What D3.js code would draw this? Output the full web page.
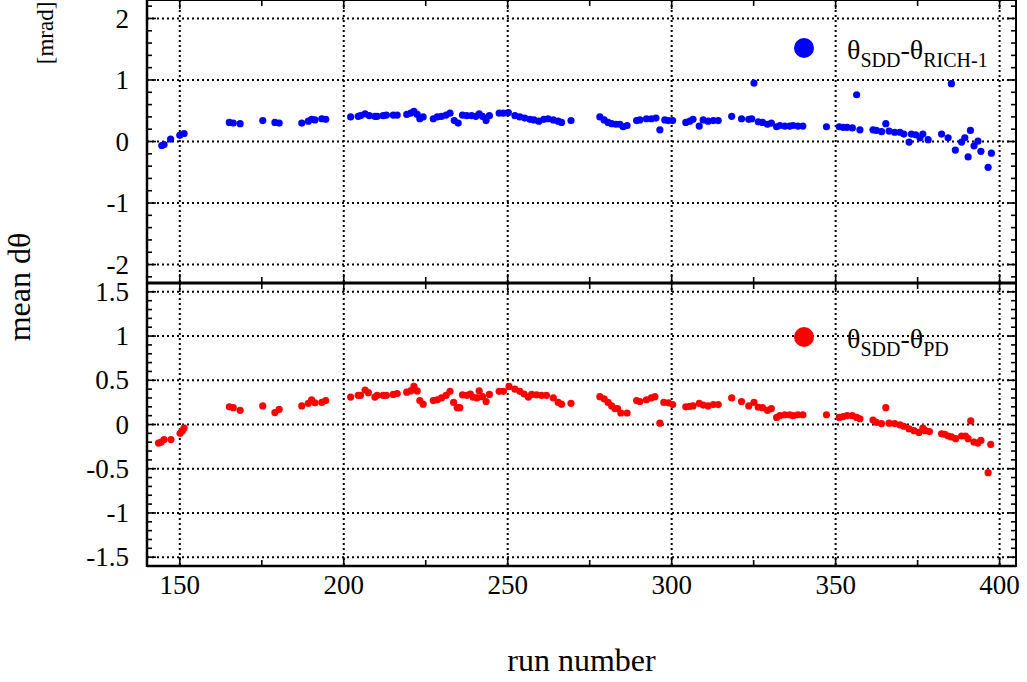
<!DOCTYPE html>
<html><head><meta charset="utf-8">
<script src="https://cdn.jsdelivr.net/npm/d3@7"></script>
<style>
html,body{margin:0;padding:0;background:#fff;}
svg{display:block;font-family:"Liberation Serif","Times New Roman",serif;}
</style></head><body>
<svg id="chart" width="1027" height="682"></svg>
<script>
// ---- data ----
const runsTop = [144.5,145.2,147.2,150,151.3,165.1,166.3,168.4,175.3,179,180.3,187.2,189.2,190.2,191.2,193.3,194.5,202.1,204.4,205.1,206.5,207.8,209.5,210.2,212,213,215.1,216.3,219.2,220.4,221.4,222.4,223.2,224.2,227.3,228.5,229.8,231.2,232.4,233.7,234.9,236.2,237.5,239,240.3,241.3,242.3,243.4,244.4,247.4,248.7,250.2,252.2,253.7,255.2,256.8,258,259.5,261,262.3,263.9,265.4,266.4,269.3,278.1,279.4,280.6,281.7,283,284.2,285.2,286.4,289.3,290.3,292.3,293.8,295.2,296.4,297.9,299,300.3,304.3,305.5,306.5,308.4,309.6,311.1,312.7,314.2,318.3,321.3,323.5,324.4,325.1,326.4,327.7,329.2,330.4,332,333,334.5,336,337,338.5,340,347.2,351.1,352.3,353.5,355.1,356.4,357.4,361.4,362.4,364,365.3,366.3,368,369.6,370.8,372.4,373.1,374.4,375.7,376.6,378.2,382.3,384.3,385.3,386.5,388.4,389.4,390.4,391.1,392.2,393.4,394.3,396.5,397.5];
const valsTop = [-0.065,-0.05,0.04,0.1,0.13,0.31,0.30,0.29,0.34,0.31,0.30,0.30,0.33,0.36,0.35,0.37,0.36,0.40,0.41,0.42,0.45,0.42,0.41,0.41,0.42,0.43,0.43,0.43,0.44,0.46,0.49,0.44,0.37,0.40,0.37,0.40,0.41,0.43,0.46,0.34,0.30,0.43,0.42,0.42,0.41,0.45,0.41,0.34,0.42,0.46,0.46,0.47,0.42,0.40,0.38,0.36,0.35,0.33,0.36,0.37,0.35,0.33,0.31,0.34,0.40,0.35,0.31,0.29,0.28,0.28,0.24,0.26,0.34,0.35,0.37,0.37,0.38,0.19,0.35,0.34,0.34,0.31,0.33,0.36,0.25,0.35,0.33,0.34,0.34,0.41,0.37,0.36,0.37,0.95,0.32,0.31,0.28,0.30,0.24,0.26,0.25,0.25,0.26,0.25,0.25,0.24,0.24,0.23,0.23,0.22,0.76,0.19,0.19,0.18,0.16,0.29,0.17,0.15,0.15,0.12,-0.01,0.12,0.11,0.06,0.12,0.03,0.12,0.06,0.94,-0.14,-0.01,0.06,-0.25,0.18,-0.07,0.005,-0.16,-0.42,-0.19];
const runsBot = [143.5,144.3,145.2,147.3,150.1,150.8,151.3,165.1,166.3,168.4,175.3,179,180.3,187.2,189.2,190.2,191.2,193.3,194.5,202.1,204.4,205.1,206.5,207.5,209.5,210.2,212,213,215.1,216.3,219.2,220.4,221.4,222.4,223.2,224.2,227.3,228.5,229.8,231.2,232.4,233.5,234.6,235.4,236.2,237.5,238.6,239.4,240.6,241.3,242.3,243.4,244.4,247.4,248.7,250.4,252.2,253.7,255,256.3,257.3,258.8,260.3,261.8,263.9,265.4,266.4,269.3,278.1,279.4,280.6,281.7,282.7,283.5,284.5,286.4,289.3,290.3,292.3,293.8,294.9,296.4,297.6,299,300.3,304.3,305.5,306.5,308.4,309.6,311.1,312.7,314.2,318.3,321.3,323.5,325.1,326.4,327.7,329.2,330.4,332,333,334.5,336,337,338.5,340,347.2,351.1,352.3,353.5,355.1,356.4,357.4,361.4,362.4,364,365.3,366.3,368,369.6,370.8,372.4,373.9,375.4,376.6,377.3,378.6,382.3,383.3,384.3,385.3,386.6,388.4,389.6,390.4,391.2,392.2,393.4,394.3,396.5,397.3];
const valsBot = [-0.21,-0.20,-0.17,-0.17,-0.10,-0.07,-0.04,0.20,0.19,0.16,0.21,0.135,0.17,0.21,0.24,0.28,0.245,0.25,0.27,0.31,0.33,0.33,0.39,0.36,0.31,0.33,0.33,0.33,0.34,0.35,0.365,0.38,0.43,0.38,0.27,0.23,0.27,0.28,0.30,0.33,0.375,0.25,0.19,0.19,0.335,0.33,0.345,0.31,0.30,0.38,0.315,0.26,0.34,0.375,0.375,0.43,0.40,0.375,0.345,0.31,0.34,0.335,0.33,0.33,0.30,0.25,0.23,0.24,0.315,0.29,0.25,0.21,0.18,0.18,0.13,0.13,0.27,0.26,0.28,0.30,0.315,0.015,0.25,0.245,0.225,0.20,0.205,0.21,0.24,0.22,0.21,0.225,0.225,0.30,0.26,0.21,0.25,0.195,0.19,0.16,0.18,0.08,0.10,0.11,0.11,0.10,0.11,0.11,0.11,0.08,0.09,0.10,0.10,0.08,0.065,0.05,0.025,0.01,0.19,0.015,0.01,-0.005,-0.02,-0.05,-0.07,-0.09,-0.04,-0.07,-0.08,-0.105,-0.11,-0.13,-0.14,-0.16,-0.13,-0.13,-0.16,0.04,-0.20,-0.21,-0.18,-0.545,-0.225];

const xDomain = [140, 405];
const xTickValues = [150, 200, 250, 300, 350, 400];
const xMinorStep = 25;
const yTicksTop = [-2, -1, 0, 1, 2];
const yTicksBot = [-1.5, -1, -0.5, 0, 0.5, 1, 1.5];
const yDomainTop = [-2.3, 2.3];
const yDomainBot = [-1.6, 1.6];
const xTitle = "run number";
const yTitle = "mean dθ";
const yUnit = "[mrad]";
const seriesTop = {name: ["θ", "SDD", "-θ", "RICH-1"], color: "#0000ff"};
const seriesBot = {name: ["θ", "SDD", "-θ", "PD"], color: "#ff0000"};

// ---- layout ----
const L = 147, R = 1016;
const svg = d3.select("#chart");
const x = d3.scaleLinear().domain(xDomain).range([L, R]);

const panels = [
  {top: 0, bottom: 283, domain: yDomainTop, ticks: yTicksTop, minor: 0.2, runs: runsTop, vals: valsTop, series: seriesTop, legendVal: 1.52},
  {top: 283, bottom: 566, domain: yDomainBot, ticks: yTicksBot, minor: 0.1, runs: runsBot, vals: valsBot, series: seriesBot, legendVal: 0.99}
];

const xMinor = d3.range(xDomain[0], xDomain[1] + 0.001, 1).filter(v => v % xMinorStep === 0);

panels.forEach((p, pi) => {
  const y = d3.scaleLinear().domain(p.domain).range([p.bottom, p.top]);
  const g = svg.append("g");

  // grid
  const grid = g.append("g").attr("stroke", "#000").attr("stroke-width", 2).attr("stroke-dasharray", "2,3");
  grid.selectAll("line.h").data(p.ticks).join("line")
    .attr("x1", L).attr("x2", R).attr("y1", d => y(d)).attr("y2", d => y(d));
  grid.selectAll("line.v").data(xTickValues).join("line")
    .attr("x1", d => x(d)).attr("x2", d => x(d)).attr("y1", p.top).attr("y2", p.bottom);

  // ticks
  const tk = g.append("g").attr("stroke", "#000").attr("stroke-width", 1.6);
  const yMin = d3.range(Math.ceil(p.domain[0] / p.minor - 1e-6), Math.floor(p.domain[1] / p.minor + 1e-6) + 1).map(k => +(k * p.minor).toFixed(3));
  yMin.forEach(v => {
    const major = p.ticks.some(t => Math.abs(t - v) < 1e-6);
    const len = major ? 9 : 5;
    tk.append("line").attr("x1", L).attr("x2", L + len).attr("y1", y(v)).attr("y2", y(v));
    tk.append("line").attr("x1", R).attr("x2", R - len).attr("y1", y(v)).attr("y2", y(v));
  });
  xMinor.forEach(v => {
    const major = xTickValues.includes(v);
    const len = major ? 9 : 6;
    tk.append("line").attr("x1", x(v)).attr("x2", x(v)).attr("y1", p.top).attr("y2", p.top + len);
    tk.append("line").attr("x1", x(v)).attr("x2", x(v)).attr("y1", p.bottom).attr("y2", p.bottom - len);
  });

  // y tick labels
  g.append("g").selectAll("text").data(p.ticks).join("text")
    .attr("x", 129).attr("y", d => y(d)).attr("dy", "0.34em")
    .attr("text-anchor", "end").attr("font-size", 27).attr("fill", "#000")
    .text(d => String(d));

  // points
  const pts = p.runs.map((r, i) => [r, p.vals[i]]);
  g.append("g").selectAll("circle").data(pts).join("circle")
    .attr("cx", d => x(d[0])).attr("cy", d => y(d[1])).attr("r", 3.6)
    .attr("fill", p.series.color);

  // legend
  const ly = y(p.legendVal);
  g.append("circle").attr("cx", 804).attr("cy", ly).attr("r", 10).attr("fill", p.series.color);
  const t = g.append("text").attr("x", 847).attr("y", ly + 11).attr("font-size", 28).attr("fill", "#000");
  t.append("tspan").text(p.series.name[0]);
  t.append("tspan").attr("font-size", 20).attr("dy", 8).text(p.series.name[1]);
  t.append("tspan").attr("dy", -8).text(p.series.name[2]);
  t.append("tspan").attr("font-size", 20).attr("dy", 8).text(p.series.name[3]);

  // frame
  g.append("rect").attr("x", L).attr("y", p.top).attr("width", R - L).attr("height", p.bottom - p.top)
    .attr("fill", "none").attr("stroke", "#000").attr("stroke-width", 2);
});

// thick divider and outer edges
svg.append("line").attr("x1", L).attr("x2", R).attr("y1", 283).attr("y2", 283).attr("stroke", "#000").attr("stroke-width", 3);
svg.append("line").attr("x1", L).attr("x2", R).attr("y1", 566).attr("y2", 566).attr("stroke", "#000").attr("stroke-width", 2.5);
svg.append("line").attr("x1", L).attr("x2", L).attr("y1", 0).attr("y2", 567).attr("stroke", "#000").attr("stroke-width", 2.5);

// x tick labels
svg.append("g").selectAll("text").data(xTickValues).join("text")
  .attr("x", d => x(d)).attr("y", 594).attr("text-anchor", "middle")
  .attr("font-size", 27).attr("fill", "#000").text(d => String(d));

// titles
svg.append("text").attr("x", (L + R) / 2).attr("y", 671).attr("text-anchor", "middle")
  .attr("font-size", 32).attr("fill", "#000").text(xTitle);
svg.append("text").attr("transform", "translate(30,287) rotate(-90)").attr("text-anchor", "middle")
  .attr("font-size", 32).attr("fill", "#000").text(yTitle);
svg.append("text").attr("transform", "translate(53,33) rotate(-90)").attr("text-anchor", "middle")
  .attr("font-size", 23).attr("fill", "#000").text(yUnit);
</script>
</body></html>
